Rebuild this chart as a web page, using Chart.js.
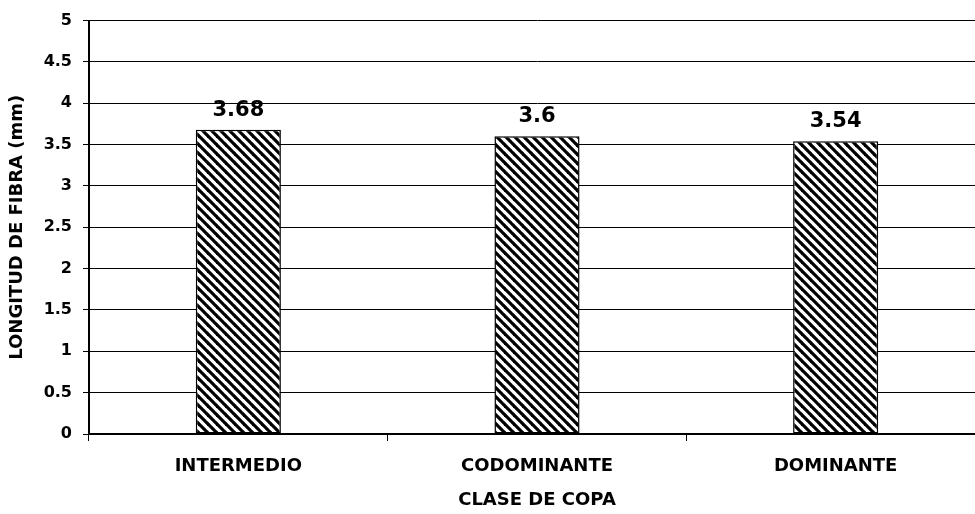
<!DOCTYPE html>
<html>
<head>
<meta charset="utf-8">
<script src="https://cdn.jsdelivr.net/npm/chart.js@4.4.1/dist/chart.umd.min.js"></script>
<style>
  html, body { margin: 0; padding: 0; background: #fff; overflow: hidden; }
  #wrap { position: relative; width: 985px; height: 514px; }
</style>
</head>
<body>
<div id="wrap"><canvas id="chart"></canvas></div>
<script>
// Longitud de fibra por clase de copa
const categories = ['INTERMEDIO', 'CODOMINANTE', 'DOMINANTE'];
const fiberLength = [3.68, 3.6, 3.54];
const yTicks = [0, 0.5, 1, 1.5, 2, 2.5, 3, 3.5, 4, 4.5, 5];
const yTitle = 'LONGITUD DE FIBRA (mm)';
const xTitle = 'CLASE DE COPA';

const FONT = '"DejaVu Sans", "Liberation Sans", Arial, sans-serif';

// Diagonal hatch fill for the bars
function makeHatch() {
  const s = 9;
  const c = document.createElement('canvas');
  c.width = s; c.height = s;
  const g = c.getContext('2d');
  g.fillStyle = '#fff';
  g.fillRect(0, 0, s, s);
  g.strokeStyle = '#000';
  g.lineWidth = 3.2;
  g.lineCap = 'butt';
  for (const x0 of [-s, 0, s]) {
    g.beginPath();
    g.moveTo(x0 - 1, -1);
    g.lineTo(x0 + s + 1, s + 1);
    g.stroke();
  }
  return g.createPattern(c, 'repeat');
}

// Value labels above each bar
const valueLabels = {
  id: 'valueLabels',
  afterDatasetsDraw(chart) {
    const ctx = chart.ctx;
    const meta = chart.getDatasetMeta(0);
    ctx.save();
    ctx.fillStyle = '#000';
    ctx.font = 'bold 21px ' + FONT;
    ctx.textAlign = 'center';
    ctx.textBaseline = 'alphabetic';
    meta.data.forEach((bar, i) => {
      ctx.fillText(String(fiberLength[i]), bar.x, bar.y - 14);
    });
    ctx.restore();
  }
};

new Chart(document.getElementById('chart'), {
  type: 'bar',
  data: {
    labels: categories,
    datasets: [{
      data: fiberLength,
      backgroundColor: makeHatch(),
      borderColor: '#000',
      borderWidth: 1.5,
      borderSkipped: false,
      barPercentage: 0.285,
      categoryPercentage: 1
    }]
  },
  options: {
    responsive: true,
    maintainAspectRatio: false,
    animation: false,
    layout: { padding: { top: 18, left: 0, right: 0, bottom: 0 } },
    plugins: {
      legend: { display: false },
      tooltip: { enabled: false }
    },
    scales: {
      x: {
        offset: true,
        afterFit(scale) { scale.height = 80; },
        grid: {
          offset: true,
          drawOnChartArea: false,
          drawTicks: true,
          tickLength: 7,
          color: '#000',
          lineWidth: 1
        },
        border: { display: true, color: '#000', width: 2 },
        ticks: {
          color: '#000',
          padding: 15,
          maxRotation: 0,
          font: { family: FONT, size: 18, weight: 'bold' }
        },
        title: {
          display: true,
          text: xTitle,
          color: '#000',
          padding: { top: 0, bottom: 3 },
          font: { family: FONT, size: 18, weight: 'bold' }
        }
      },
      y: {
        min: 0,
        max: 5,
        afterFit(scale) { scale.width = 89; },
        afterBuildTicks(scale) { scale.ticks = yTicks.map(v => ({ value: v })); },
        grid: {
          color: '#000',
          lineWidth: 1,
          tickLength: 6
        },
        border: { display: true, color: '#000', width: 2 },
        ticks: {
          color: '#000',
          padding: 11,
          font: { family: FONT, size: 16, weight: 'bold' },
          callback: v => String(v)
        },
        title: {
          display: true,
          text: yTitle,
          color: '#000',
          padding: { top: 7, bottom: 0 },
          font: { family: FONT, size: 18, weight: 'bold' }
        }
      }
    }
  },
  plugins: [valueLabels]
});
</script>
</body>
</html>
